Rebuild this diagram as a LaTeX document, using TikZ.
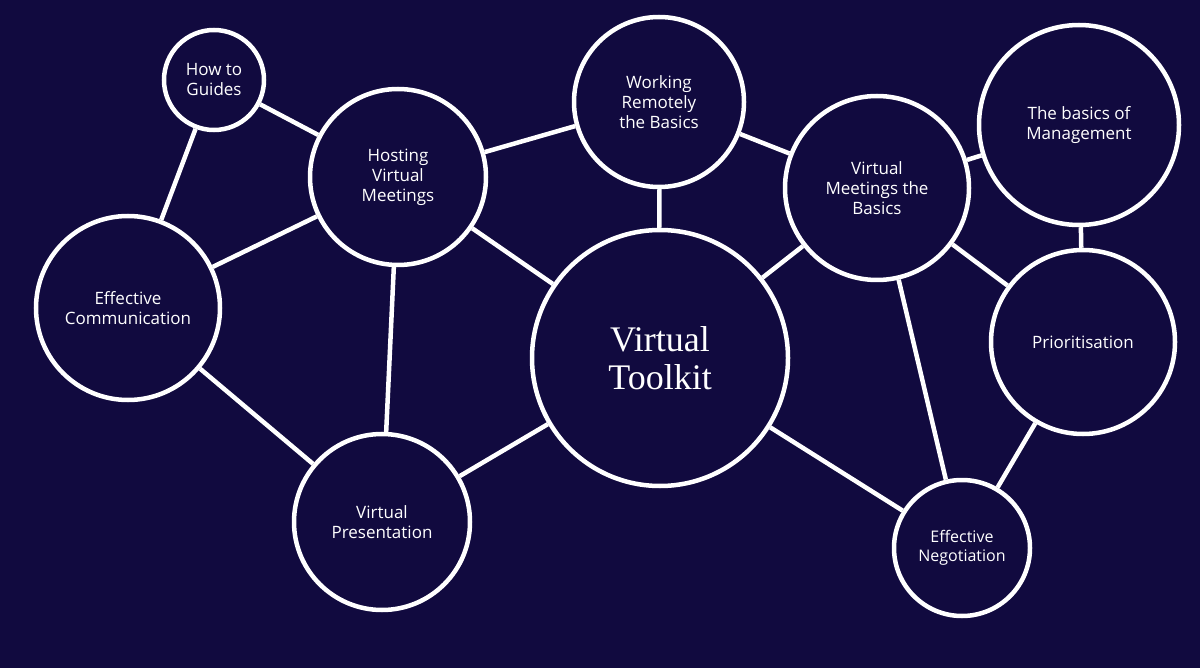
\documentclass[tikz,border=0pt]{standalone}
\usepackage{fontspec}
\setmainfont{Open Sans}
\newfontfamily\serifx{Liberation Serif}
\definecolor{bg}{HTML}{110A3F}
\begin{document}
\begin{tikzpicture}[x=1pt,y=-1pt,
  c/.style={circle,draw=white,line width=4.5pt,fill=bg,text=white,align=center,inner sep=0pt,font=\fontsize{17}{20}\selectfont},
  e/.style={draw=white,line width=4.5pt}]
\fill[bg] (0,0) rectangle (1200,668);
\useasboundingbox (0,0) rectangle (1200,668);
\node[c,minimum size=100pt] (how) at (214,80) {How to\\Guides};
\node[c,minimum size=176pt] (host) at (398,177) {Hosting\\Virtual\\Meetings};
\node[c,minimum size=170pt] (work) at (659,102) {Working\\Remotely\\the Basics};
\node[c,minimum size=184pt] (vmb) at (877,188) {Virtual\\Meetings the\\Basics};
\node[c,minimum size=200pt] (mgmt) at (1079,125) {The basics of\\Management};
\node[c,minimum size=184pt] (comm) at (128,308) {Effective\\Communication};
\node[c,minimum size=256pt,font=\serifx\fontsize{36}{38}\selectfont] (tk) at (660,358) {Virtual\\Toolkit};
\node[c,minimum size=184pt] (prio) at (1083,342) {Prioritisation};
\node[c,minimum size=176pt] (pres) at (382,522) {Virtual\\Presentation};
\node[c,minimum size=136pt,font=\fontsize{16}{19}\selectfont] (neg) at (962,548) {Effective\\Negotiation};
\begin{scope}[on background layer/.style={}]
\end{scope}
\foreach \a/\b in {how/host,how/comm,host/comm,host/work,host/tk,host/pres,comm/pres,pres/tk,work/tk,work/vmb,vmb/tk,vmb/mgmt,vmb/prio,vmb/neg,mgmt/prio,prio/neg,tk/neg}
  \draw[e] (\a) -- (\b);
\end{tikzpicture}
\end{document}
